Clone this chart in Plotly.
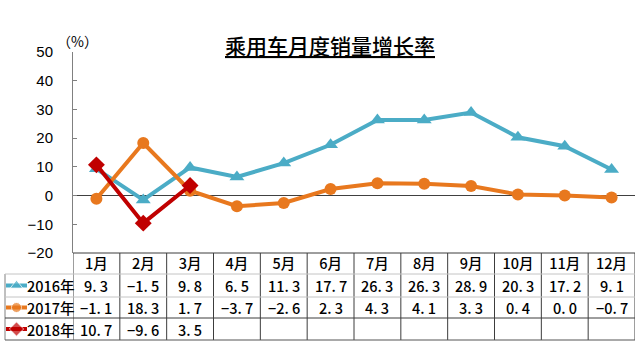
import plotly.graph_objects as go

# ---- data -------------------------------------------------------------
months = ["1月", "2月", "3月", "4月", "5月", "6月",
          "7月", "8月", "9月", "10月", "11月", "12月"]
years = ["2016年", "2017年", "2018年"]
growth_2016 = [9.3, -1.5, 9.8, 6.5, 11.3, 17.7, 26.3, 26.3, 28.9, 20.3, 17.2, 9.1]
growth_2017 = [-1.1, 18.3, 1.7, -3.7, -2.6, 2.3, 4.3, 4.1, 3.3, 0.4, 0.0, -0.7]
growth_2018 = [10.7, -9.6, 3.5]
y_ticks = [-20, -10, 0, 10, 20, 30, 40, 50]

series = [growth_2016, growth_2017, growth_2018]
colors = ["#4BACC6", "#E8781E", "#C00000"]
symbols = ["triangle-up", "circle", "diamond"]
sizes = [13, 12, 13]

# ---- page geometry (pixels) ------------------------------------------
W, H = 640, 344
ML, MR, MT, MB = 5, 5, 52, 4
PW, PH = W - ML - MR, H - MT - MB


def px_x(x):
    return (x - ML) / PW


def px_y(y):
    return (H - MB - y) / PH


AXIS_LEFT = 73          # y axis / first month column edge
TABLE_TOP = 253         # bottom of the chart area
ROW_LINES = [274, 297, 318, 340]
ROW_CENTERS = [285.5, 307.5, 329]
CJK = "Noto Sans CJK SC"
CELL_FONT = dict(family=CJK, size=14.5, color="#000000", weight=500)

fig = go.Figure()

# ---- line series ------------------------------------------------------
for name, vals, c, s, sz in zip(years, series, colors, symbols, sizes):
    fig.add_trace(go.Scatter(
        x=months[:len(vals)], y=vals, name=name, mode="lines+markers",
        line=dict(color=c, width=4),
        marker=dict(symbol=s, size=sz, color=c),
        showlegend=False, xaxis="x", yaxis="y",
    ))

# ---- legend keys inside the first table column ------------------------
for i, (name, c, s, sz) in enumerate(zip(years, colors, symbols, sizes)):
    yk = H - MB - ROW_CENTERS[i]
    fig.add_trace(go.Scatter(
        x=[1, 11.5, 22], y=[yk] * 3, mode="lines+markers",
        line=dict(color=c, width=4),
        marker=dict(symbol=s, size=[0, sz - 2, 0], color=c),
        showlegend=False, xaxis="x2", yaxis="y2", hoverinfo="skip",
    ))
    fig.add_annotation(x=46, y=yk, xref="x2", yref="y2", text=name,
                       showarrow=False, xanchor="center", yanchor="middle",
                       font=CELL_FONT)


# ---- table values -----------------------------------------------------
def fmt(v):
    return f"{v:.1f}".replace("-", "−").replace(".", ". ")


for i, vals in enumerate(series):
    for m, v in zip(months, vals):
        fig.add_annotation(x=m, y=px_y(ROW_CENTERS[i]), xref="x", yref="paper",
                           text=fmt(v), showarrow=False,
                           xanchor="center", yanchor="middle",
                           font=CELL_FONT)

# ---- table grid -------------------------------------------------------
dark, light = "#3c3c3c", "#c4c4c4"
shapes = []
for k in range(len(months) + 1):
    shapes.append(dict(type="line", xref="x", yref="paper",
                       x0=k - 0.5, x1=k - 0.5, y0=0, y1=px_y(TABLE_TOP),
                       line=dict(color=dark, width=1)))
shapes.append(dict(type="line", xref="paper", yref="paper", x0=0, x1=0,
                   y0=0, y1=px_y(ROW_LINES[0]), line=dict(color="#808080", width=1)))
shapes.append(dict(type="line", xref="x", yref="paper", x0=-0.5, x1=len(months) - 0.5,
                   y0=px_y(TABLE_TOP), y1=px_y(TABLE_TOP), line=dict(color=dark, width=1)))
row_colors = [light, light, dark, "#555555"]
for yl, c in zip(ROW_LINES, row_colors):
    shapes.append(dict(type="line", xref="paper", yref="paper", x0=0, x1=1,
                       y0=px_y(yl), y1=px_y(yl), line=dict(color=c, width=1)))

# ---- title and unit ---------------------------------------------------
fig.add_annotation(x=px_x(330), y=px_y(45), xref="paper", yref="paper",
                   text="<u>乘用车月度销量增长率</u>", showarrow=False,
                   xanchor="center", yanchor="middle",
                   font=dict(family=CJK, size=21, color="#000000", weight=500))
fig.add_annotation(x=px_x(77), y=px_y(41), xref="paper", yref="paper",
                   text="（%）", showarrow=False, xanchor="center", yanchor="middle",
                   font=dict(family=CJK, size=14, color="#000000"))

fig.update_layout(
    width=W, height=H,
    margin=dict(l=ML, r=MR, t=MT, b=MB),
    paper_bgcolor="white", plot_bgcolor="white",
    shapes=shapes,
    xaxis=dict(domain=[px_x(AXIS_LEFT), 1], type="category",
               categoryorder="array", categoryarray=months,
               range=[-0.5, len(months) - 0.5], automargin=False,
               showgrid=False, zeroline=False, showline=False, ticks="",
               tickfont=CELL_FONT, anchor="y"),
    yaxis=dict(domain=[px_y(TABLE_TOP), 1], range=[-20, 50], automargin=False,
               tickvals=y_ticks, ticks="inside", ticklen=4, tickcolor="#808080",
               showline=True, linecolor="#808080", linewidth=1,
               showgrid=False, zeroline=True, zerolinecolor="#404040",
               zerolinewidth=1, ticklabelstandoff=16,
               tickfont=dict(family="Liberation Sans", size=15, color="#000000"),
               anchor="x"),
    xaxis2=dict(domain=[0, px_x(AXIS_LEFT)], range=[0, AXIS_LEFT - ML],
                visible=False, anchor="y2"),
    yaxis2=dict(domain=[0, px_y(TABLE_TOP)], range=[0, H - MB - TABLE_TOP],
                visible=False, anchor="x2"),
)

fig.write_html("out.html")
